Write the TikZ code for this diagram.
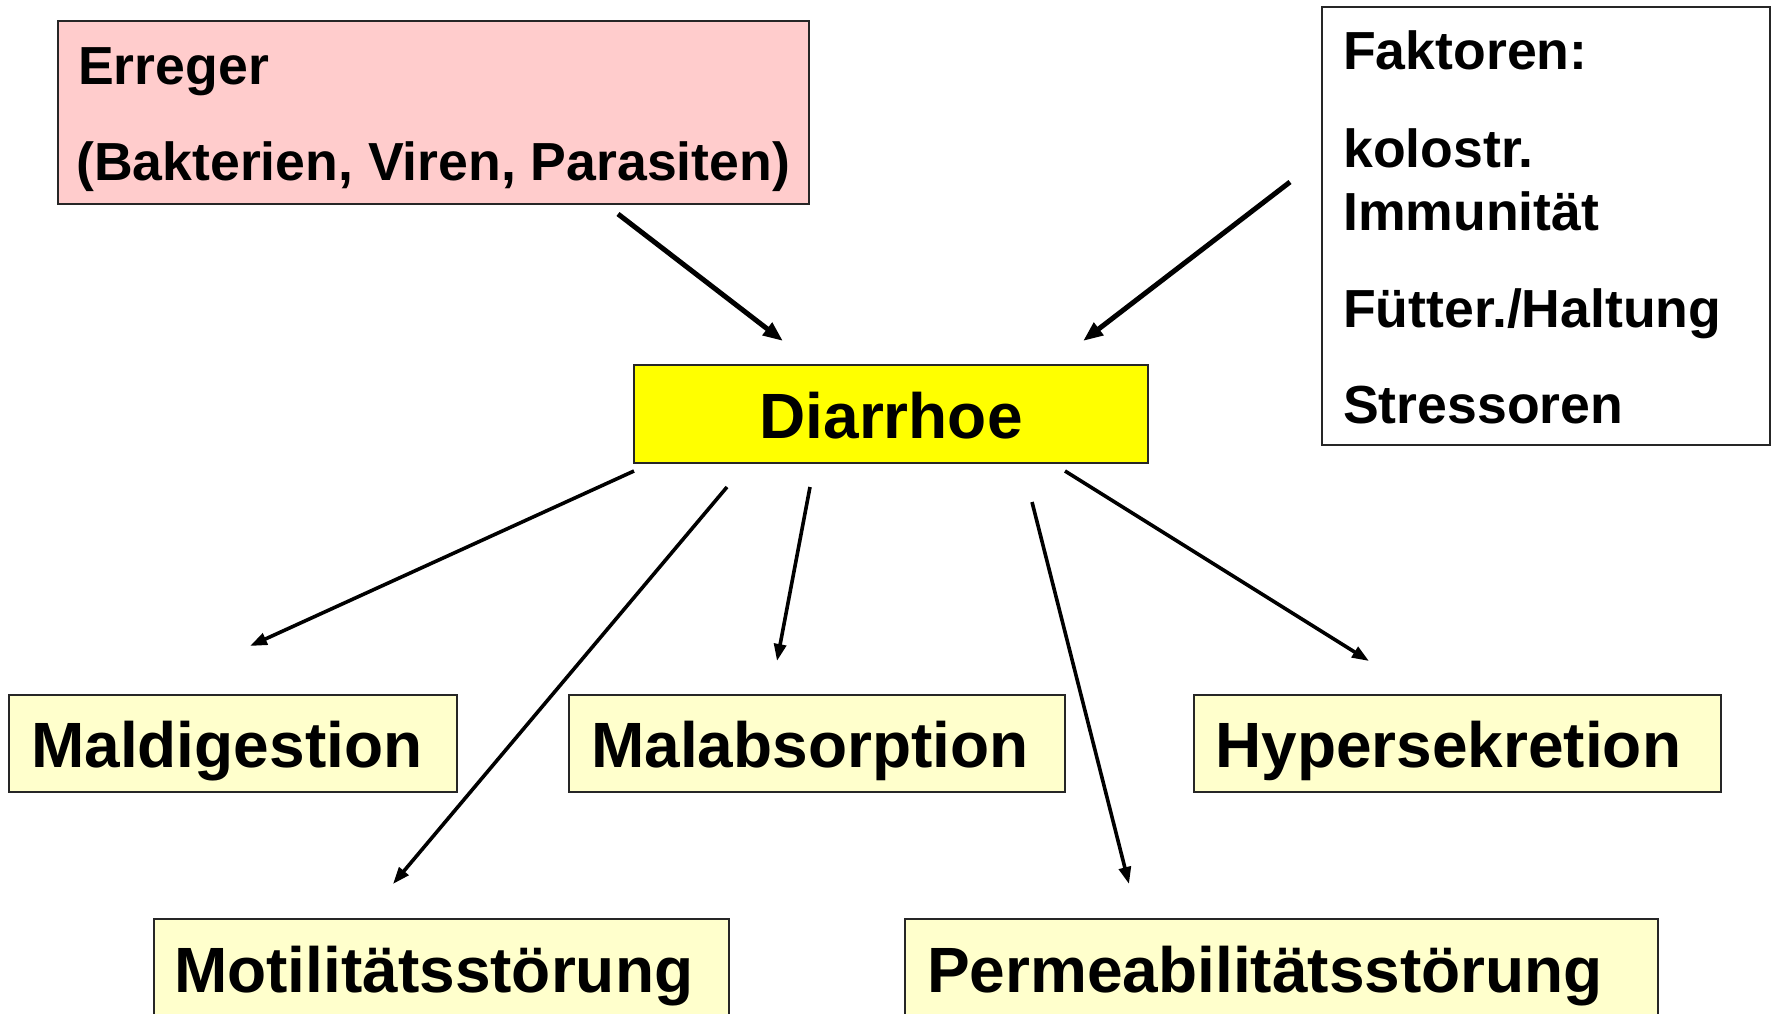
\documentclass[tikz,border=0pt]{standalone}
\usepackage{fontspec}
\setmainfont{Liberation Sans}
\usetikzlibrary{arrows.meta}
\definecolor{pinkfill}{HTML}{FFCCCC}
\definecolor{yelfill}{HTML}{FFFF00}
\definecolor{lightyel}{HTML}{FFFFCC}
\begin{document}
\begin{tikzpicture}[x=1pt,y=-1pt,
  box/.style={draw=black!85, line width=2pt, anchor=north west, inner sep=0pt, outer sep=0pt},
  txt/.style={anchor=base west, inner sep=0pt, font=\fontsize{53.6}{60}\selectfont\bfseries},
  bigtxt/.style={anchor=base west, inner sep=0pt, font=\fontsize{64}{70}\selectfont\bfseries},
  toparrow/.style={line width=5pt, -{Triangle[length=20pt,width=15pt]}},
  botarrow/.style={line width=3.6pt, -{Triangle[length=17pt,width=12pt]}}
]
\useasboundingbox (0,0) rectangle (1774,1014);
\clip (0,0) rectangle (1774,1014);
\fill[white] (0,0) rectangle (1774,1014);

% boxes
\node[box, fill=pinkfill, minimum width=751pt, minimum height=183pt] (erreger) at (58,21) {};
\node[box, fill=white, minimum width=448pt, minimum height=438pt] (faktoren) at (1322,7) {};
\node[box, fill=yelfill, minimum width=514pt, minimum height=98pt] (diarrhoe) at (634,365) {};
\node[box, fill=lightyel, minimum width=448pt, minimum height=97pt] (maldig) at (9,695) {};
\node[box, fill=lightyel, minimum width=496pt, minimum height=97pt] (malabs) at (569,695) {};
\node[box, fill=lightyel, minimum width=527pt, minimum height=97pt] (hyper) at (1194,695) {};
\node[box, fill=lightyel, minimum width=575pt, minimum height=130pt] (motil) at (154,919) {};
\node[box, fill=lightyel, minimum width=753pt, minimum height=130pt] (perm) at (905,919) {};

% texts
\node[txt] (t1) at (78,85) {Erreger};
\node[txt] (t2) at (76,180) {(Bakterien, Viren, Parasiten)};
\node[txt] (f1) at (1343,70) {Faktoren:};
\node[txt] (f2) at (1343,167) {kolostr.};
\node[txt] (f3) at (1343,230) {Immunität};
\node[txt] (f4) at (1343,327) {Fütter./Haltung};
\node[txt] (f5) at (1343,423) {Stressoren};
\node[bigtxt, anchor=base] (d) at (891,438) {Diarrhoe};
\node[bigtxt] (m1) at (31,767) {Maldigestion};
\node[bigtxt] (m2) at (591,767) {Malabsorption};
\node[bigtxt] (m3) at (1215,767) {Hypersekretion};
\node[bigtxt] (m4) at (174,992) {Motilitätsstörung};
\node[bigtxt] (m5) at (927,992) {Permeabilitätsstörung};

% connector end points
\coordinate (e1) at (618,214);  \coordinate (e2) at (783,341);
\coordinate (k1) at (1290,182); \coordinate (k2) at (1083,341);
\coordinate (a1) at (634,471);  \coordinate (a2) at (250,646);
\coordinate (b1) at (727,487);  \coordinate (b2) at (393,884);
\coordinate (c1) at (810,487);  \coordinate (c2) at (777,661);
\coordinate (p1) at (1032,502); \coordinate (p2) at (1129,884);
\coordinate (h1) at (1065,471); \coordinate (h2) at (1369,661);

\draw[toparrow] (e1) -- (e2);
\draw[toparrow] (k1) -- (k2);
\draw[botarrow] (a1) -- (a2);
\draw[botarrow] (b1) -- (b2);
\draw[botarrow] (c1) -- (c2);
\draw[botarrow] (p1) -- (p2);
\draw[botarrow] (h1) -- (h2);
\end{tikzpicture}
\end{document}
